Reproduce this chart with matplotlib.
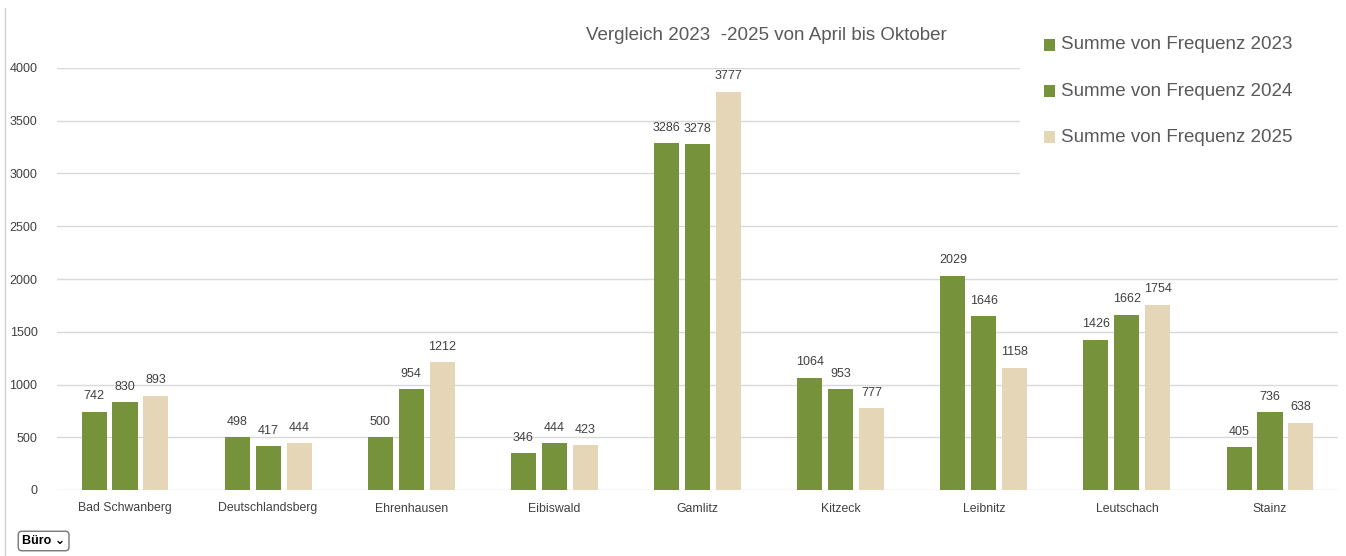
import matplotlib
matplotlib.use("Agg")
import matplotlib.pyplot as plt
import numpy as np
from matplotlib.patches import Rectangle

# data
orte = ["Bad Schwanberg", "Deutschlandsberg", "Ehrenhausen", "Eibiswald", "Gamlitz",
        "Kitzeck", "Leibnitz", "Leutschach", "Stainz"]
freq_2023 = [742, 498, 500, 346, 3286, 1064, 2029, 1426, 405]
freq_2024 = [830, 417, 954, 444, 3278, 953, 1646, 1662, 736]
freq_2025 = [893, 444, 1212, 423, 3777, 777, 1158, 1754, 638]
serien = ["Summe von Frequenz 2023", "Summe von Frequenz 2024", "Summe von Frequenz 2025"]
yticks = [0, 500, 1000, 1500, 2000, 2500, 3000, 3500, 4000]

GREEN = "#76933c"
BEIGE = "#e6d6b8"
TXT = "#595959"
plt.rcParams['font.family'] = ['Liberation Sans', 'DejaVu Sans']

fig = plt.figure(figsize=(13.46, 5.56), dpi=100)
ax = fig.add_axes([57/1346, 66/556, (1338-57)/1346, 422/556])

x = np.arange(len(orte))
w = 0.175
step = 0.216
cols = [GREEN, GREEN, BEIGE]
for i, (vals, c, lab) in enumerate(zip([freq_2023, freq_2024, freq_2025], cols, serien)):
    pos = x + (i - 1) * step
    ax.bar(pos, vals, width=w, color=c, label=lab, zorder=3)
    for p, v in zip(pos, vals):
        ax.text(p, v + 90, str(v), ha="center", va="bottom", fontsize=9,
                color="#404040", clip_on=False)

ax.set_xlim(-0.475, len(orte) - 0.525)
ax.set_ylim(0, 4000)
ax.set_yticks(yticks)
ax.set_xticks(x)
ax.set_xticklabels(orte, fontsize=8.8, color="#404040")
ax.tick_params(axis="y", labelsize=9, labelcolor="#404040", length=0, pad=14)
ax.tick_params(axis="x", length=0, pad=9)
ax.grid(axis="y", color="#d9d9d9", linewidth=1, zorder=0)
for s in ax.spines.values():
    s.set_visible(False)

fig.text(766/1346, 1 - 35/556, "Vergleich 2023  -2025 von April bis Oktober",
         ha="center", va="center", fontsize=13.5, color=TXT)

# legend box on top of grid
fig.patches.append(Rectangle((1020/1346, 1 - 182/556), 326/1346, 167/556,
                             transform=fig.transFigure, facecolor="white",
                             edgecolor="none", zorder=5))
for k, (lab, c) in enumerate(zip(serien, cols)):
    yy = 1 - (45 + 46*k)/556
    fig.patches.append(Rectangle((1044/1346, yy - 6/556), 11/1346, 12/556,
                                 transform=fig.transFigure, facecolor=c,
                                 edgecolor="none", zorder=6))
    fig.text(1061/1346, yy, lab, ha="left", va="center", fontsize=13.5,
             color=TXT, zorder=7)

# left frame line
fig.add_artist(plt.Line2D([5/1346, 5/1346], [0, 1 - 8/556], transform=fig.transFigure,
                          color="#d0d0d0", linewidth=1))

# dropdown "Büro"
fig.text(22/1346, 1 - 541/556, "Büro \u2304", ha="left", va="center", fontsize=9,
         color="black", fontweight="bold", family=['Liberation Sans', 'DejaVu Sans'],
         bbox=dict(boxstyle="round,pad=0.3", facecolor="white", edgecolor="#767676"))

fig.savefig("out.png", dpi=100)
